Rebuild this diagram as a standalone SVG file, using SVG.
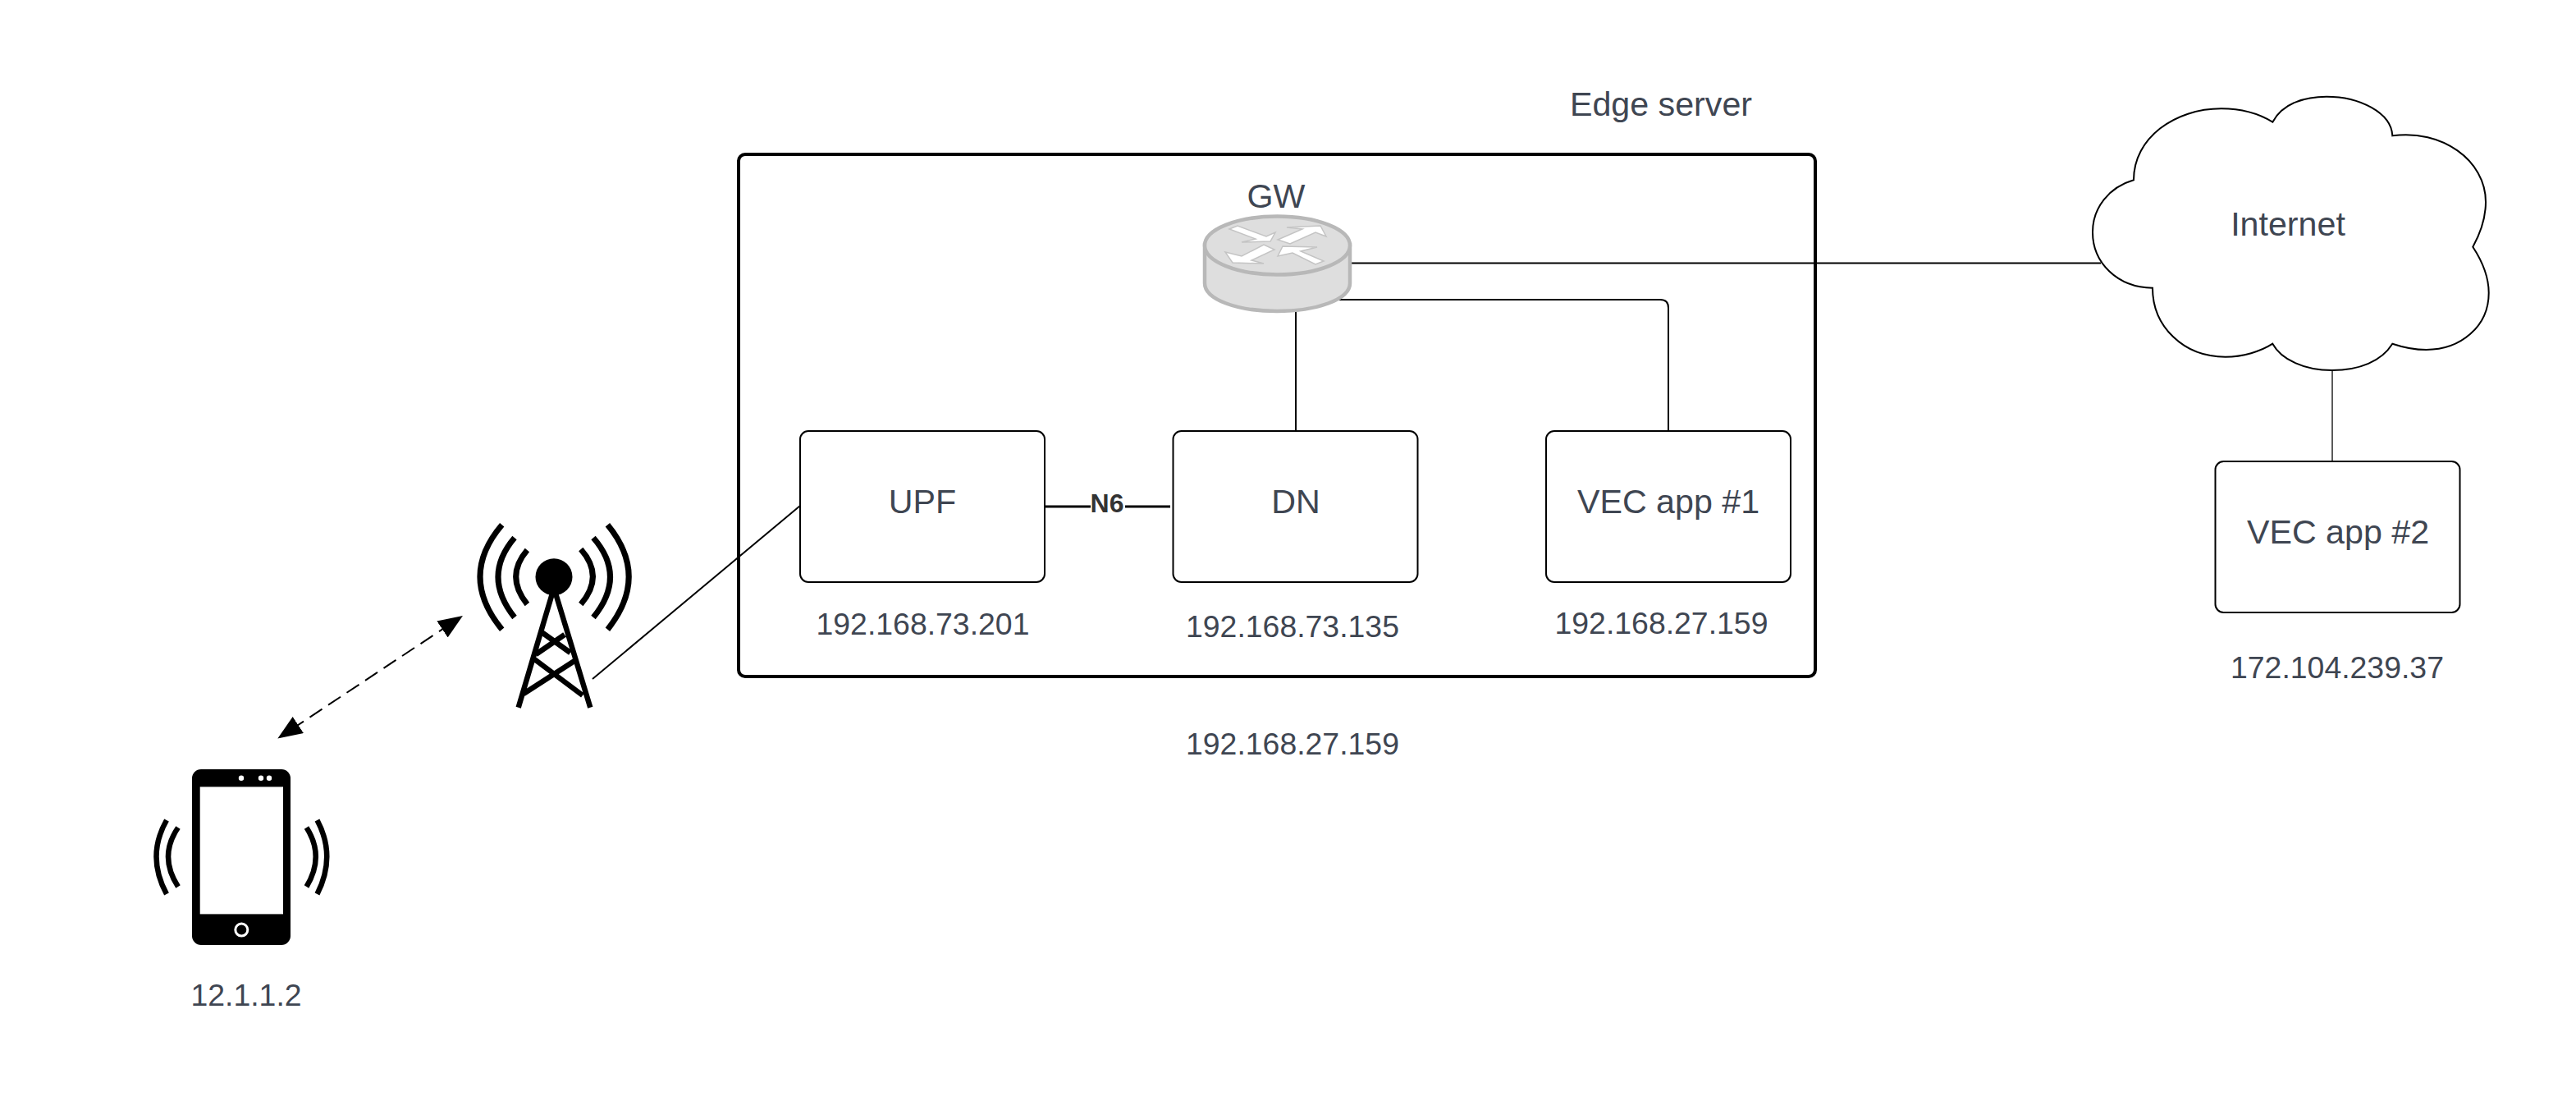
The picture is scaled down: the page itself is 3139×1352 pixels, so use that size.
<svg xmlns="http://www.w3.org/2000/svg" width="3139" height="1352" viewBox="0 0 3139 1352">
<style>
text{font-family:"Liberation Sans",Arial,sans-serif;fill:#3f4652;text-anchor:middle}
.l{font-size:41.2px}
.ip{font-size:37.4px}
.n6{font-size:32px;font-weight:bold;fill:#333}
.box{fill:#fff;stroke:#000;stroke-width:2}
.c{fill:none;stroke:#000;stroke-width:2}
.thin{stroke-width:1.3}
.n{stroke-width:3}
.wave{fill:none;stroke:#000;stroke-width:7}
.rb{fill:#dedede;stroke:#b8b8b8;stroke-width:4.5}
.ra{fill:#fff;stroke:#c4c4c4;stroke-width:1.5}
</style>
<defs>
<marker id="ah" viewBox="0 0 30 24" refX="10" refY="12" markerUnits="userSpaceOnUse" markerWidth="30" markerHeight="24" orient="auto-start-reverse"><path d="M0,0 L30,12 L0,24 Z" fill="#000"/></marker>
</defs>
<rect width="3139" height="1352" fill="#fff"/>
<g id="edge-server">
<rect x="900" y="188" width="1312" height="636" rx="8" fill="#fff" stroke="#000" stroke-width="4"/>
<text class="l" x="2024" y="141">Edge server</text>
</g>
<g id="connectors">
<path class="c" d="M1640,320.5 H2560"/>
<path class="c" d="M1627,365 H2023 Q2033,365 2033,375 V525"/>
<path class="c" d="M1579,375 V525"/>
<path class="c thin" d="M2842,450 V562"/>
<path class="c" d="M722,827 L975,616"/>
<path class="c n" d="M1274,617 H1329 M1371,617 H1426"/>
<path class="c" stroke-dasharray="18 9" d="M355,888.5 L547.3,761" marker-start="url(#ah)" marker-end="url(#ah)"/>
</g>
<g id="n6-label"><text class="n6" x="1349" y="624">N6</text></g>
<g id="gw">
<path class="rb" d="M1468,298 V345 C1468,365 1508,379 1556,379 C1604,379 1645,365 1645,345 V298 Z"/>
<ellipse class="rb" cx="1556.5" cy="299" rx="88.5" ry="35.5"/>
<polygon class="ra" points="1498,279 1508,275 1543,288 1554,283 1548,294 1513,295 1530,291"/>
<polygon class="ra" points="1557,292 1587,279 1568,277 1609,275 1616,288 1603,283 1572,297"/>
<polygon class="ra" points="1493,307 1513,312 1540,298 1553,304 1525,317 1540,321 1502,320"/>
<polygon class="ra" points="1557,312 1563,300 1605,301 1585,306 1613,318 1603,322 1575,308"/>
<text class="l" x="1555" y="253">GW</text>
</g>
<g id="upf"><rect class="box" x="975" y="525" width="298" height="184" rx="10"/><text class="l" x="1124" y="625">UPF</text><text class="ip" x="1124.5" y="773">192.168.73.201</text></g>
<g id="dn"><rect class="box" x="1429.5" y="525" width="298" height="184" rx="10"/><text class="l" x="1579" y="625">DN</text><text class="ip" x="1575" y="776">192.168.73.135</text></g>
<g id="vec1"><rect class="box" x="1884" y="525" width="298" height="184" rx="10"/><text class="l" x="2033" y="625">VEC app #1</text><text class="ip" x="2024.5" y="772">192.168.27.159</text></g>
<g id="server-ip"><text class="ip" x="1575" y="919">192.168.27.159</text></g>
<g id="internet">
<path fill="#fff" stroke="#000" stroke-width="2" d="M2769.3,148.7 C2782,125 2810,117.7 2835,117.7 C2875,117.7 2914,137 2915.3,165.3 C2975,157 3029,195 3029,246 C3029,266 3022,285 3013.3,300.7 C3024,317 3032.7,335 3032.7,356.7 C3032.7,398 2998,426 2956.7,426 C2942,426 2928,423 2915.3,418.7 C2902,440 2875,451 2841.7,451 C2808,451 2780,438 2769.3,418.7 C2755,428 2733,434.7 2711.7,434.7 C2660,434.7 2623,397 2623,350.7 C2580,350 2550,320 2550,282.7 C2550,253 2570,228 2600,219.3 C2600,168 2650,132.3 2706.7,132.3 C2730,132.3 2752,138 2769.3,148.7 Z"/>
<text class="l" x="2788" y="287">Internet</text>
</g>
<g id="vec2"><rect class="box" x="2699.5" y="562" width="298" height="184" rx="10"/><text class="l" x="2849" y="662">VEC app #2</text><text class="ip" x="2848" y="826">172.104.239.37</text></g>
<g id="tower">
<circle cx="675" cy="702.7" r="22.5" fill="#000"/>
<path class="wave" d="M611.7,639.3 Q558.3,702 611.7,766.7 M627,655 Q587,702 627,752 M642.4,670 Q615,702 642.4,736 M740.4,639.3 Q792,702 740.4,766.7 M723,655 Q764,702 723,752 M707.8,669 Q737,702 707.8,736"/>
<path fill="none" stroke="#000" stroke-width="6.5" d="M631.7,861.7 L675,716 L719.3,861.7 M660,770 L695,795 M688,773 L653,797 M650,802 L710,847 M700,805 L638,845"/>
</g>
<g id="phone">
<rect x="234" y="937" width="120" height="214" rx="11" fill="#000"/>
<rect x="243.7" y="958.4" width="101.3" height="155" fill="#fff"/>
<circle cx="294" cy="947.8" r="3.2" fill="#fff"/><circle cx="318" cy="947.8" r="3.2" fill="#fff"/><circle cx="328" cy="947.8" r="3.2" fill="#fff"/>
<circle cx="294.3" cy="1132.6" r="7.5" fill="none" stroke="#fff" stroke-width="3"/>
<path fill="none" stroke="#000" stroke-width="6.5" d="M203,999 Q178,1043 203,1089 M217,1008 Q193,1043 217,1080 M386.5,999 Q410,1043 386.5,1089 M373.5,1008 Q396,1043 373.5,1080"/>
<text class="ip" x="300" y="1225">12.1.1.2</text>
</g>
</svg>
